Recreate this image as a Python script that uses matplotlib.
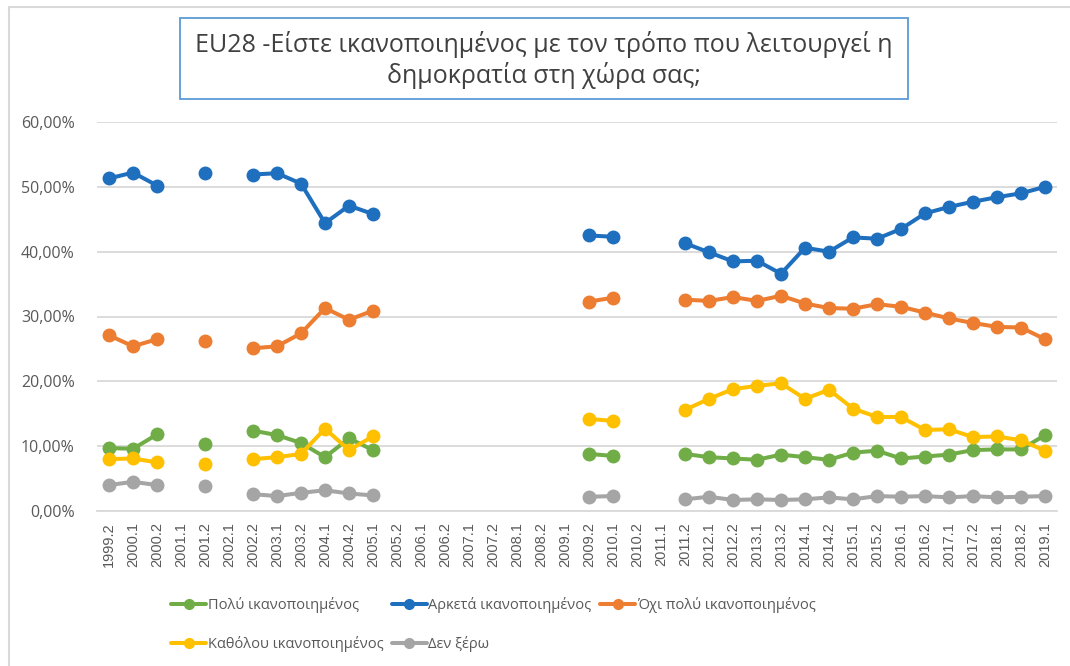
import numpy as np
import matplotlib
matplotlib.use("Agg")
import matplotlib.pyplot as plt
from matplotlib.patches import Rectangle

nan = np.nan

# categories (survey waves)
waves = ["1999.2", "2000.1", "2000.2", "2001.1", "2001.2", "2002.1", "2002.2",
         "2003.1", "2003.2", "2004.1", "2004.2", "2005.1", "2005.2", "2006.1",
         "2006.2", "2007.1", "2007.2", "2008.1", "2008.2", "2009.1", "2009.2",
         "2010.1", "2010.2", "2011.1", "2011.2", "2012.1", "2012.2", "2013.1",
         "2013.2", "2014.1", "2014.2", "2015.1", "2015.2", "2016.1", "2016.2",
         "2017.1", "2017.2", "2018.1", "2018.2", "2019.1"]

# values in %
poly = [9.7, 9.6, 11.8, nan, 10.3, nan, 12.4, 11.7, 10.5, 8.3, 11.2, 9.4,
        nan, nan, nan, nan, nan, nan, nan, nan, 8.8, 8.5, nan, nan,
        8.8, 8.3, 8.1, 7.9, 8.7, 8.3, 7.9, 9.0, 9.3, 8.1, 8.4, 8.7, 9.4, 9.5, 9.5, 11.7]
arketa = [51.3, 52.2, 50.2, nan, 52.2, nan, 51.9, 52.1, 50.5, 44.4, 47.1, 45.8,
          nan, nan, nan, nan, nan, nan, nan, nan, 42.5, 42.3, nan, nan,
          41.3, 39.9, 38.5, 38.6, 36.6, 40.6, 40.0, 42.2, 42.0, 43.5, 45.9, 46.9, 47.7, 48.4, 49.0, 50.0]
oxi_poly = [27.1, 25.4, 26.5, nan, 26.2, nan, 25.1, 25.4, 27.4, 31.3, 29.5, 30.9,
            nan, nan, nan, nan, nan, nan, nan, nan, 32.3, 32.9, nan, nan,
            32.6, 32.4, 33.0, 32.4, 33.2, 32.0, 31.3, 31.2, 31.9, 31.5, 30.6, 29.7, 29.0, 28.4, 28.3, 26.5]
katholou = [8.0, 8.1, 7.5, nan, 7.3, nan, 8.0, 8.3, 8.8, 12.7, 9.4, 11.5,
            nan, nan, nan, nan, nan, nan, nan, nan, 14.2, 13.9, nan, nan,
            15.6, 17.3, 18.8, 19.3, 19.7, 17.3, 18.7, 15.8, 14.5, 14.5, 12.5, 12.6, 11.4, 11.5, 10.9, 9.3]
den_ksero = [4.0, 4.5, 4.0, nan, 3.9, nan, 2.6, 2.3, 2.8, 3.2, 2.7, 2.4,
             nan, nan, nan, nan, nan, nan, nan, nan, 2.2, 2.3, nan, nan,
             1.8, 2.2, 1.7, 1.8, 1.7, 1.8, 2.1, 1.8, 2.3, 2.2, 2.3, 2.1, 2.3, 2.1, 2.2, 2.3]

labels = ["Πολύ ικανοποιημένος", "Αρκετά ικανοποιημένος", "Όχι πολύ ικανοποιημένος",
          "Καθόλου ικανοποιημένος", "Δεν ξέρω"]
series = [poly, arketa, oxi_poly, katholou, den_ksero]
colors = ["#70AD47", "#1F6FBF", "#ED7D31", "#FFC000", "#A5A5A5"]

plt.rcParams['font.family'] = ['Open Sans', 'DejaVu Sans']

fig = plt.figure(figsize=(10.70, 6.66), dpi=100)
ax = fig.add_axes([97 / 1070, 1 - 511 / 666, 960 / 1070, 389 / 666])

x = np.arange(len(waves))
lines = []
for vals, lab, col in zip(series, labels, colors):
    ln, = ax.plot(x, vals, color=col, lw=2.9, marker='o', markersize=9,
                  solid_capstyle='round', label=lab)
    lines.append(ln)

ax.set_xlim(-0.5, len(waves) - 0.5)
ax.set_ylim(0, 60)
ax.set_yticks(np.arange(0, 61, 10))
ax.set_yticklabels([f"{v},00%" for v in range(0, 61, 10)], fontsize=11.5, color="#595959")
ax.set_xticks(x)
ax.set_xticklabels(waves, rotation=90, fontsize=10.5, color="#595959",
                   family=['Liberation Sans', 'DejaVu Sans'])
ax.tick_params(axis='both', length=0, pad=8)
ax.tick_params(axis='y', pad=16)
ax.grid(axis='y', color="#D9D9D9", lw=1.3)
ax.set_axisbelow(True)
for s in ['top', 'right', 'left']:
    ax.spines[s].set_visible(False)
ax.spines['bottom'].set_color("#D9D9D9")
ax.spines['bottom'].set_linewidth(1.3)

# outer chart border
fig.patches.append(Rectangle((9 / 1070, -0.1), 1.2, 1 - 7 / 666 + 0.1,
                             transform=fig.transFigure, fill=False,
                             edgecolor="#D9D9D9", lw=1.5))

# title box
fig.patches.append(Rectangle((180 / 1070, 1 - 99 / 666), 728 / 1070, 81 / 666,
                             transform=fig.transFigure, fill=True, facecolor="white",
                             edgecolor="#5B9BD5", lw=1.3))
fig.text(544 / 1070, 1 - 60 / 666,
         "EU28 -Είστε ικανοποιημένος με τον τρόπο που λειτουργεί η\nδημοκρατία στη χώρα σας;",
         ha='center', va='center', fontsize=18, color="#404040", linespacing=1.2)

# legend: row-wise order
order = [0, 3, 1, 4, 2]
leg = fig.legend([lines[i] for i in order], [labels[i] for i in order],
                 loc='upper left', bbox_to_anchor=(158 / 1070, 1 - 584 / 666),
                 ncol=3, frameon=False, handlelength=2.4, fontsize=10.5,
                 handletextpad=0.1, columnspacing=0.6, labelspacing=1.55,
                 labelcolor="#595959")
for h in leg.legend_handles:
    h.set_markersize(7)

fig.savefig("out.png", dpi=100)
